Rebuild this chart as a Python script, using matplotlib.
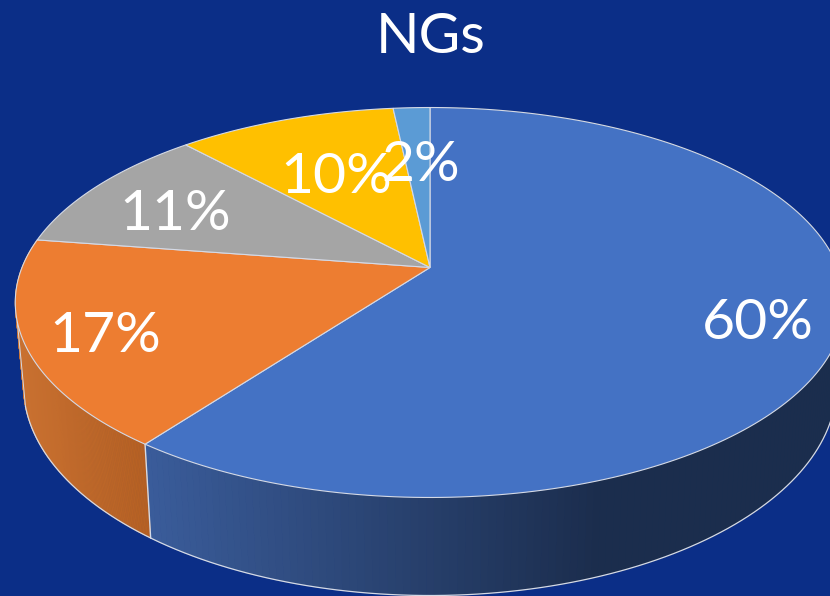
# coding = utf-8
import numpy as np
from matplotlib import pyplot as plt
from matplotlib.collections import PolyCollection
from matplotlib.colors import to_rgb

title = "NGs"
values = [60.2, 17.2, 10.75, 10.15, 1.7]
labels = ["60%", "17%", "11%", "10%", "2%"]
colors = ["#4472C4", "#ED7D31", "#A5A5A5", "#FFC000", "#5B9BD5"]

bg = "#0B2E87"
edge = "#D5DAE6"


def top_disc(t):
    # 透视投影后的上表面 t 从正上方顺时针
    u, v = np.sin(t), np.cos(t)
    d = 1 + 0.1795 * v
    return 430 + 408 * u / d, 267.5 - 188.7 * v / d


def low_disc(t):
    u, v = np.sin(t), np.cos(t)
    d = 1 + 0.1795 * v
    return 430 + 400 * u / d, 347.5 - 203.5 * v / d


def side_color(x, x0, c0, x1, c1):
    # 侧面的渐变
    f = np.clip((x - x0) / (x1 - x0), 0, 1)
    return tuple((1 - f) * a + f * b for a, b in zip(to_rgb(c0), to_rgb(c1)))


fig = plt.figure(figsize=(8.3, 5.96), dpi=100, facecolor=bg)
ax = fig.add_axes([0, 0, 1, 1])
ax.set_xlim(0, 830)
ax.set_ylim(596, 0)
ax.axis("off")

fr = np.cumsum([0] + values) / sum(values) * 2 * np.pi

# 蓝色和橙色的侧面
side_styles = [
    (0, (153, "#3A5C9A", 600, "#1B2D4D")),
    (1, (25, "#C87030", 150, "#B56023")),
]
for i, st in side_styles:
    t = np.linspace(fr[i], fr[i + 1], 240)
    x1, y1 = top_disc(t)
    x2, y2 = low_disc(t)
    polys = []
    cols = []
    for j in range(len(t) - 1):
        polys.append([(x1[j], y1[j]), (x1[j + 1], y1[j + 1]), (x2[j + 1], y2[j + 1]), (x2[j], y2[j])])
        cols.append(side_color((x1[j] + x2[j]) / 2, *st))
    ax.add_collection(PolyCollection(polys, facecolors=cols, edgecolors=cols, linewidths=0.6, zorder=2))

# 侧面的轮廓线
t_left = np.radians(254)
t = np.linspace(0, t_left, 400)
ax.plot(*low_disc(t), color=edge, lw=0.9, zorder=3)
ax.plot([top_disc(t_left)[0], low_disc(t_left)[0]], [top_disc(t_left)[1], low_disc(t_left)[1]], color=edge, lw=0.7, zorder=3)
ax.plot([top_disc(fr[1])[0], low_disc(fr[1])[0]], [top_disc(fr[1])[1], low_disc(fr[1])[1]], color=edge, lw=1.0, zorder=3)

# 上表面
for i in range(len(values)):
    t = np.linspace(fr[i], fr[i + 1], 200)
    x, y = top_disc(t)
    ax.fill(np.r_[430, x], np.r_[267.5, y], facecolor=colors[i], edgecolor=edge, lw=0.8, zorder=4)

# 文字
label_pos = [(702, 339), (49, 352), (119, 230), (280, 193), (381, 181)]
for s, (px, py) in zip(labels, label_pos):
    ax.text(px, py, s, color="white", fontsize=41, family="Lato", ha="left", va="baseline", zorder=6)
ax.text(376, 53, title, color="white", fontsize=41, family="Lato", ha="left", va="baseline", zorder=6)

plt.savefig("out.png", dpi=100, facecolor=bg)
